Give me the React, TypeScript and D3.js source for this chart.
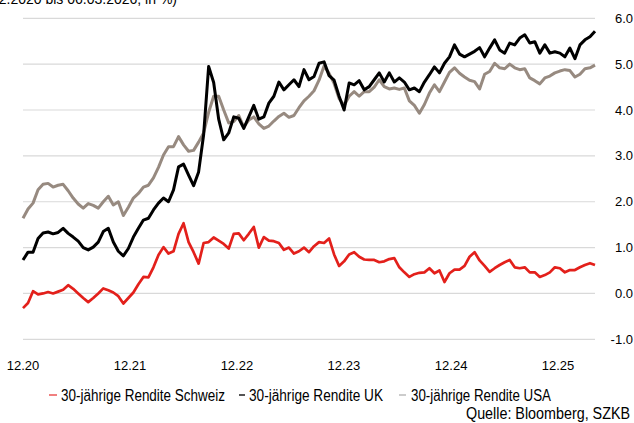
import React from 'react';
import * as d3 from 'd3';

const swissYield = [
  -0.32, -0.21, 0.05, -0.02, 0.0, 0.03, 0.0, 0.04, 0.08, 0.18,
  0.1, 0.0, -0.1, -0.19, -0.1, 0.0, 0.11, 0.07, 0.02, -0.06,
  -0.22, -0.1, 0.02, 0.2, 0.36, 0.35, 0.57, 0.84, 1.01, 0.87,
  0.92, 1.3, 1.53, 1.12, 0.9, 0.65, 1.1, 1.12, 1.22, 1.15,
  1.08, 0.98, 1.3, 1.31, 1.16, 1.3, 1.45, 1.0, 1.23, 1.15,
  1.14, 1.1, 0.95, 1.0, 0.87, 0.92, 1.0, 0.9, 1.03, 1.12,
  1.1, 1.2, 0.85, 0.6, 0.7, 0.85, 0.9, 0.8, 0.74, 0.73,
  0.73, 0.68, 0.7, 0.75, 0.77, 0.57, 0.46, 0.36, 0.42, 0.45,
  0.46, 0.55, 0.44, 0.5, 0.25, 0.44, 0.52, 0.52, 0.6, 0.8,
  0.9, 0.72, 0.6, 0.47, 0.55, 0.62, 0.68, 0.73, 0.57, 0.55,
  0.57, 0.46, 0.46, 0.36, 0.4, 0.46, 0.57, 0.55, 0.46, 0.51,
  0.51, 0.57, 0.62, 0.66, 0.62,
];

const ukYield = [
  0.73, 0.9, 0.9, 1.2, 1.32, 1.34, 1.3, 1.33, 1.42, 1.31,
  1.23, 1.14, 1.0, 0.95, 1.01, 1.12, 1.35, 1.42, 1.12, 0.92,
  0.82, 0.98, 1.23, 1.42, 1.6, 1.64, 1.82, 1.97, 2.08, 2.0,
  2.26, 2.76, 2.82, 2.58, 2.35, 2.65, 3.46, 4.95, 4.6, 3.8,
  3.35, 3.5, 3.85, 3.82, 3.6, 3.85, 4.1, 3.8, 3.85, 4.15,
  4.3, 4.61, 4.44, 4.55, 4.66, 4.51, 4.88, 4.66, 4.73, 5.02,
  5.05, 4.75, 4.65, 4.3, 4.0, 4.59, 4.55, 4.64, 4.44, 4.51,
  4.66, 4.81, 4.61, 4.81, 4.61, 4.7, 4.61, 4.44, 4.48, 4.4,
  4.61, 4.77, 4.94, 4.81, 5.02, 5.16, 5.42, 5.22, 5.16, 5.22,
  5.28, 5.36, 5.16, 5.35, 5.53, 5.31, 5.24, 5.46, 5.42, 5.57,
  5.64, 5.46, 5.49, 5.24, 5.42, 5.24, 5.27, 5.24, 5.16, 5.35,
  5.12, 5.42, 5.53, 5.6, 5.72,
];

const usYield = [
  1.64, 1.84, 1.97, 2.26, 2.38, 2.4, 2.32, 2.36, 2.38, 2.24,
  2.08, 1.95, 1.86, 1.96, 1.92, 1.86, 2.0, 2.12, 1.93, 2.0,
  1.7, 1.88, 2.08, 2.18, 2.32, 2.36, 2.52, 2.75, 3.02, 3.2,
  3.2, 3.42, 3.24, 3.1, 3.12, 3.3, 3.5, 3.95, 4.3, 4.3,
  4.0, 3.72, 3.75, 3.88, 3.63, 3.78, 3.85, 3.7, 3.6, 3.65,
  3.76, 3.86, 3.93, 3.84, 3.88, 4.05, 4.2, 4.3, 4.42, 4.65,
  4.96, 4.8, 4.58, 4.25, 4.1, 4.3, 4.4, 4.3, 4.4, 4.4,
  4.5, 4.66, 4.51, 4.46, 4.48, 4.45, 4.48, 4.2, 4.1, 3.93,
  4.12, 4.37, 4.55, 4.4, 4.61, 4.82, 4.92, 4.8, 4.72, 4.65,
  4.62, 4.46, 4.78, 4.84, 5.02, 4.92, 4.9, 5.0, 4.92, 4.88,
  4.9, 4.7, 4.64, 4.57, 4.7, 4.74, 4.81, 4.85, 4.88, 4.86,
  4.72, 4.78, 4.9, 4.92, 4.98,
];

const yTickValues = [-1, 0, 1, 2, 3, 4, 5, 6];
const xTickLabels = ['12.20', '12.21', '12.22', '12.23', '12.24', '12.25'];
const xTickDates = [
  new Date(2020, 11, 1), new Date(2021, 11, 1), new Date(2022, 11, 1),
  new Date(2023, 11, 1), new Date(2024, 11, 1), new Date(2025, 11, 1),
];
const seriesNames = ['30-jährige Rendite Schweiz', '30-jährige Rendite UK', '30-jährige Rendite USA'];
const seriesColors = ['#e3201b', '#000000', '#978a80'];
const legendMarkerColors = ['#f08080', '#555555', '#cccccc'];
const titleText = '(01.12.2020 bis 06.03.2026, in %)';
const sourceText = 'Quelle: Bloomberg, SZKB';

export default function App() {
  const W = 634, H = 423;
  const startDate = new Date(2020, 11, 1);
  const endDate = new Date(2026, 3, 6);
  const x = d3.scaleTime().domain([startDate, endDate]).range([23, 595]);
  const y = d3.scaleLinear().domain([-1, 6]).range([339.3, 18.3]);
  const n = swissYield.length;
  const dateAt = (i: number) => new Date(startDate.getTime() + (i * (endDate.getTime() - startDate.getTime())) / (n - 1));

  const line = d3.line<number>()
    .x((_, i) => x(dateAt(i)))
    .y((d) => y(d));

  const axisFont = '"Liberation Sans", Arial, sans-serif';
  const narrowFont = '"Liberation Sans Narrow", "Arial Narrow", "Liberation Sans", sans-serif';

  const legend = [
    { marker: [49, 57], tx: 61, tw: 164 },
    { marker: [239, 245], tx: 249, tw: 134 },
    { marker: [399, 406], tx: 411, tw: 140 },
  ];

  return (
    <svg width={W} height={H} style={{ position: 'absolute', left: 0, top: 0, background: '#fff' }}>
      <rect x={0} y={0} width={W} height={H} fill="#fff" />
      <text x={177} y={3.5} textAnchor="end" fontFamily={axisFont} fontSize={14} fill="#000">{titleText}</text>
      {yTickValues.map((v) => (
        <g key={v}>
          <line x1={23} x2={595} y1={y(v)} y2={y(v)} stroke="#d9d9d9" strokeWidth={1.2} />
          <text x={633} y={y(v) + 4.6} textAnchor="end" fontFamily={axisFont} fontSize={13} fill="#000">
            {v.toFixed(1)}
          </text>
        </g>
      ))}
      {xTickLabels.map((lab, i) => (
        <text key={lab} x={x(xTickDates[i])} y={370} textAnchor="middle" fontFamily={axisFont} fontSize={13} fill="#000">
          {lab}
        </text>
      ))}
      <path d={line(usYield) || ''} fill="none" stroke={seriesColors[2]} strokeWidth={3} strokeLinejoin="round" />
      <path d={line(ukYield) || ''} fill="none" stroke={seriesColors[1]} strokeWidth={3} strokeLinejoin="round" />
      <path d={line(swissYield) || ''} fill="none" stroke={seriesColors[0]} strokeWidth={2.7} strokeLinejoin="round" />
      {seriesNames.map((name, i) => (
        <g key={name}>
          <line x1={legend[i].marker[0]} x2={legend[i].marker[1]} y1={395} y2={395} stroke={legendMarkerColors[i]} strokeWidth={2} />
          <text x={legend[i].tx} y={400.7} fontFamily={narrowFont} fontSize={16} textLength={legend[i].tw} lengthAdjust="spacingAndGlyphs" fill="#000">
            {name}
          </text>
        </g>
      ))}
      <text x={466} y={419} fontFamily={narrowFont} fontSize={16} textLength={164} lengthAdjust="spacingAndGlyphs" fill="#000">
        {sourceText}
      </text>
    </svg>
  );
}
